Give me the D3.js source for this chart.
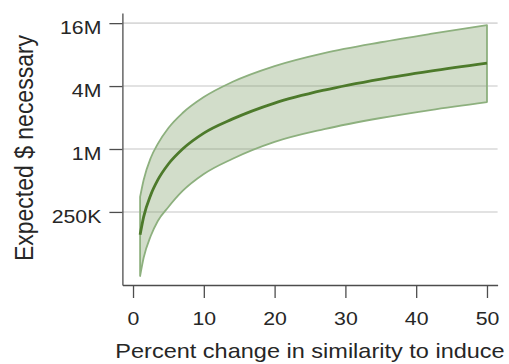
<!DOCTYPE html>
<html>
<head>
<meta charset="utf-8">
<script src="https://cdn.jsdelivr.net/npm/d3@7"></script>
<style>
  body { margin: 0; background: #fff; }
  text { font-family: "Liberation Sans", Arial, sans-serif; fill: #262626; }
</style>
</head>
<body>
<script>
var width = 509,
    height = 364;

// percent change in similarity
var pct = [1, 1.5, 2.5, 3.5, 5, 7, 10, 14, 20, 27, 35, 42, 50];
// expected $ necessary (estimate and interval bounds)
var estimate = [151e3, 224e3, 364e3, 506e3, 719e3, 1.0e6, 1.42e6, 1.93e6, 2.75e6, 3.66e6, 4.67e6, 5.56e6, 6.63e6];
var upper = [348e3, 506e3, 820e3, 1.12e6, 1.59e6, 2.21e6, 3.14e6, 4.37e6, 6.21e6, 8.27e6, 10.5e6, 12.6e6, 15.3e6];
var lower = [61e3, 91e3, 147e3, 205e3, 279e3, 397e3, 577e3, 803e3, 1.17e6, 1.55e6, 1.98e6, 2.36e6, 2.81e6];

var yTicks = [250e3, 1e6, 4e6, 16e6],
    yTickLabels = ["250K", "1M", "4M", "16M"],
    xTicks = [0, 10, 20, 30, 40, 50];

var svg = d3.select("body").append("svg")
    .attr("width", width)
    .attr("height", height);

var x = d3.scaleLinear().domain([-1.5, 51.5]).range([122.4, 497.6]);
var y = d3.scaleLog().base(4).domain([5e4, 2e7]).range([285, 13]);

// gridlines
svg.append("g").selectAll("line")
    .data(yTicks)
    .enter().append("line")
    .attr("x1", x.range()[0])
    .attr("x2", x.range()[1])
    .attr("y1", function(d) { return y(d); })
    .attr("y2", function(d) { return y(d); })
    .attr("stroke", "#d9d9d9")
    .attr("stroke-width", 1.6);

var rows = pct.map(function(p, i) {
    return { x: p, est: estimate[i], lo: lower[i], hi: upper[i] };
});

var area = d3.area()
    .curve(d3.curveMonotoneX)
    .x(function(d) { return x(d.x); })
    .y0(function(d) { return y(d.lo); })
    .y1(function(d) { return y(d.hi); });

svg.append("path")
    .datum(rows)
    .attr("d", function(d) { return area(d) + "Z"; })
    .attr("fill", "#6b8f4e")
    .attr("fill-opacity", 0.3)
    .attr("stroke", "#8db07e")
    .attr("stroke-width", 1.8)
    .attr("stroke-linejoin", "round");

var line = d3.line()
    .curve(d3.curveMonotoneX)
    .x(function(d) { return x(d.x); })
    .y(function(d) { return y(d.est); });

svg.append("path")
    .datum(rows)
    .attr("d", line)
    .attr("fill", "none")
    .attr("stroke", "#4d7a2b")
    .attr("stroke-width", 2.8);

// axes
var yAxis = d3.axisLeft(y)
    .tickValues(yTicks)
    .tickFormat(function(d, i) { return yTickLabels[i]; })
    .tickSize(13)
    .tickSizeOuter(0)
    .tickPadding(5.3);

var xAxis = d3.axisBottom(x)
    .tickValues(xTicks)
    .tickSize(13)
    .tickSizeOuter(0)
    .tickPadding(14);

var gy = svg.append("g")
    .attr("transform", "translate(" + x.range()[0] + ",0)")
    .call(yAxis);

var gx = svg.append("g")
    .attr("transform", "translate(0,285)")
    .call(xAxis);

[gx, gy].forEach(function(g) {
    g.selectAll("path, line").attr("stroke", "#4d4d4d").attr("stroke-width", 1.3);
    g.selectAll("text")
        .attr("fill", "#262626")
        .style("font-size", "18.5px")
        .style("font-family", "'Liberation Sans', Arial, sans-serif")
        .attr("transform", "scale(1.15,1)");
});
gy.selectAll("text").attr("dy", "0.57em");

svg.append("text")
    .attr("transform", "translate(310,358) scale(1.12,1)")
    .attr("text-anchor", "middle")
    .style("font-size", "21px")
    .text("Percent change in similarity to induce");

svg.append("text")
    .attr("transform", "translate(33,148) scale(1.15,1) rotate(-90)")
    .attr("text-anchor", "middle")
    .style("font-size", "23px")
    .text("Expected $ necessary");
</script>
</body>
</html>
